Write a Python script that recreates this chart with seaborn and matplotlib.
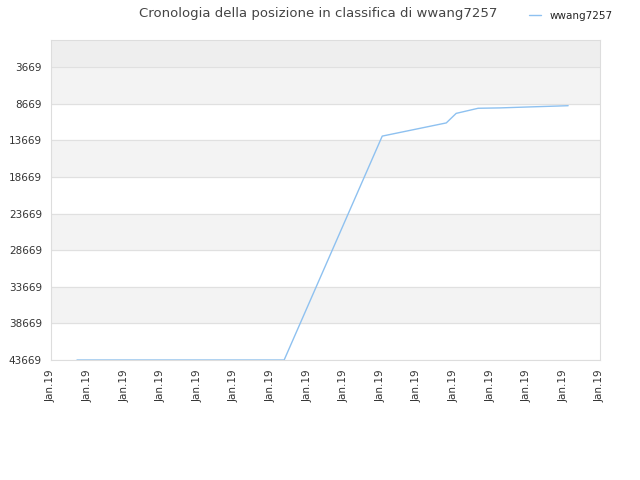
import matplotlib
matplotlib.use("Agg")
import matplotlib.pyplot as plt
import seaborn as sns
import pandas as pd

x_pos = [0.71, 6.37, 9.05, 10.8, 11.07, 11.67, 12.27, 12.87, 13.5, 14.13]
rank = [43669, 43669, 13100, 11300, 10000, 9300, 9250, 9150, 9050, 8950]
tick_labels = ["Jan.19"] * 16
y_ticks = [3669, 8669, 13669, 18669, 23669, 28669, 33669, 38669, 43669]

sns.set_style("white")
fig = plt.figure(figsize=(6.4, 4.8), dpi=100)
ax = fig.add_axes([51/640, 1-360/480, 549/640, 320/480])
ax.set_ylim(43669, -20)
ax.set_xlim(0, 15)
ax.axhspan(-20, 3669, color="#eeeeee", zorder=0)
for i in range(len(y_ticks) - 1):
    if i % 2 == 0:
        ax.axhspan(y_ticks[i], y_ticks[i+1], color="#f3f3f3", zorder=0)
for y in y_ticks:
    ax.axhline(y, color="#e0e0e0", lw=0.8, zorder=0.5)
df = pd.DataFrame({"x": x_pos, "rank": rank})
sns.lineplot(data=df, x="x", y="rank", ax=ax, color="#8ec1f0", lw=1, label="wwang7257")
ax.set_yticks(y_ticks)
ax.set_yticklabels([str(v) for v in y_ticks], fontsize=7.5, color="#333333")
ax.set_xticks(range(16))
ax.set_xticklabels(tick_labels, rotation=90, fontsize=7.5, color="#333333")
ax.set_xlabel(""); ax.set_ylabel("")
for s in ax.spines.values():
    s.set_color("#dddddd")
ax.tick_params(length=3, color="#cccccc")
ax.legend(loc="upper right", bbox_to_anchor=(1.04, 1.12), frameon=False, fontsize=7.5, handlelength=1.2)
fig.suptitle("Cronologia della posizione in classifica di wwang7257", x=318/640, y=0.985, fontsize=9.5, color="#444444")
fig.savefig("out.png", dpi=100)
